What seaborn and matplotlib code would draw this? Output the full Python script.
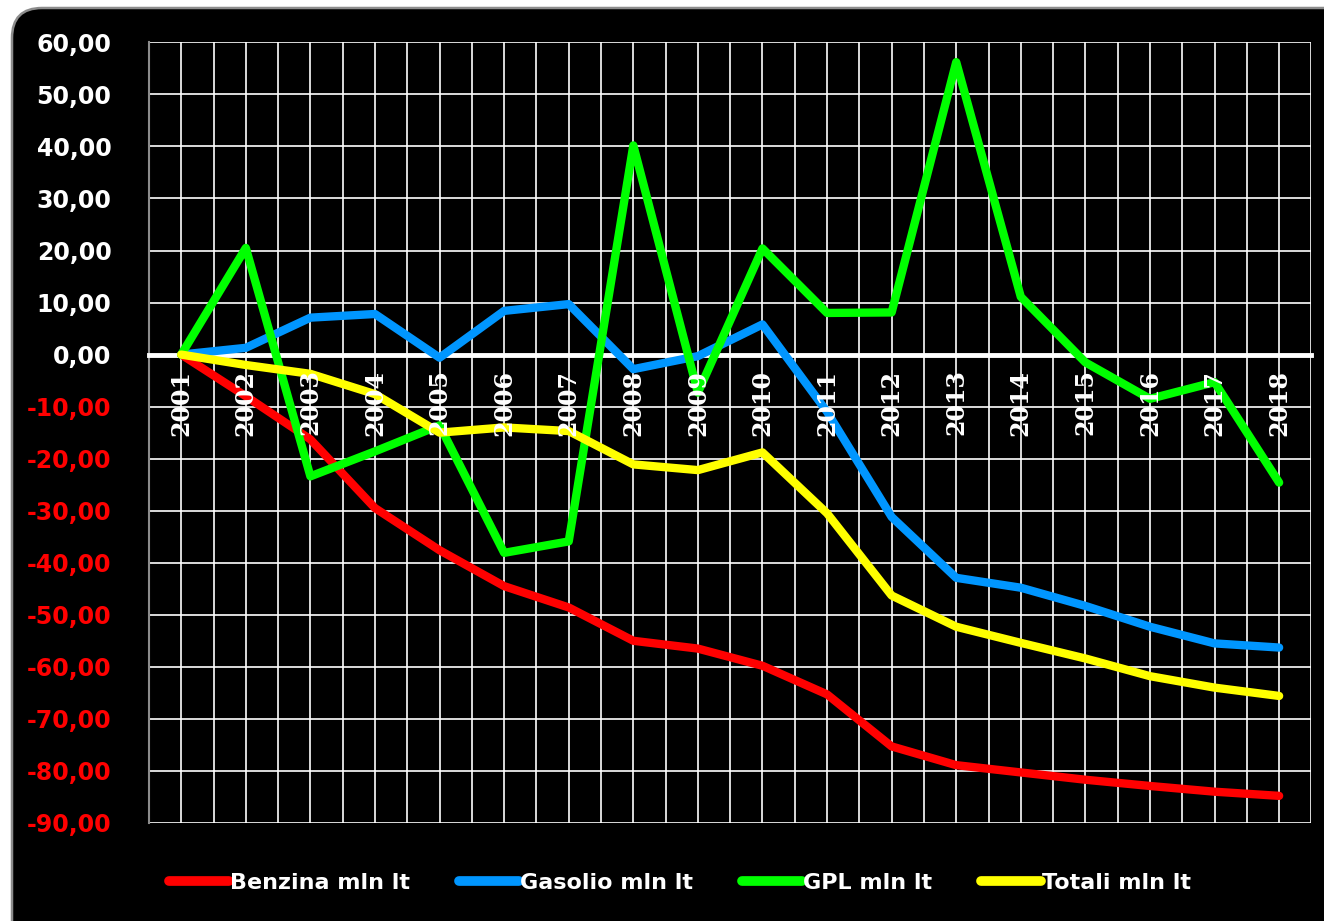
import numpy as np
import pandas as pd
import seaborn as sns
import matplotlib.pyplot as plt
from matplotlib.patches import FancyBboxPatch

# Data (variazione rispetto al 2001, mln lt)
years = list(range(2001, 2019))
benzina = [0, -8.0, -16.3, -29.5, -37.6, -44.5, -48.6, -55.0, -56.5, -59.8,
           -65.3, -75.3, -78.9, -80.3, -81.7, -82.9, -84.0, -84.8]
gasolio = [0, 1.3, 7.1, 7.8, -0.6, 8.4, 9.7, -2.8, -0.3, 5.8,
           -11.0, -31.2, -42.9, -44.8, -48.3, -52.3, -55.5, -56.3]
gpl = [0, 20.5, -23.4, -18.6, -13.6, -38.1, -35.9, 40.2, -7.3, 20.4,
       8.0, 8.1, 56.2, 11.1, -1.5, -8.5, -5.3, -24.6]
totali = [0, -2.0, -3.7, -7.6, -15.0, -14.0, -14.7, -21.1, -22.2, -18.8,
          -30.5, -46.3, -52.3, -55.4, -58.4, -61.8, -64.0, -65.6]

series_names = ['Benzina mln lt', 'Gasolio mln lt', 'GPL mln lt', 'Totali mln lt']
series_colors = ['#ff0000', '#0096ff', '#00ff00', '#ffff00']
y_ticks = list(range(-90, 61, 10))

df = pd.DataFrame({'anno': years, series_names[0]: benzina, series_names[1]: gasolio,
                   series_names[2]: gpl, series_names[3]: totali})
df_long = df.melt(id_vars='anno', var_name='serie', value_name='valore')

sns.set_style('white')
fig = plt.figure(figsize=(13.24, 9.21), dpi=100, facecolor='white')

# black rounded frame behind everything (runs off the right and bottom edges)
frame = FancyBboxPatch((0.12, -0.4), 13.6, 9.53,
                       boxstyle='round,pad=0,rounding_size=0.3',
                       transform=fig.dpi_scale_trans, facecolor='black',
                       edgecolor='#8c8c8c', linewidth=1.8, zorder=-10)
fig.patches.append(frame)

ax = fig.add_axes([0.1125, 0.1065, 0.878, 0.8475])
ax.set_facecolor('black')

sns.lineplot(data=df_long, x='anno', y='valore', hue='serie',
             hue_order=series_names, palette=series_colors, linewidth=6,
             solid_capstyle='round', solid_joinstyle='round', ax=ax, zorder=5)
handles = ax.get_lines()[:4]
ax.get_legend().remove()

ax.set_xlim(2000.5, 2018.5)
ax.set_ylim(-90, 60)
ax.set_xlabel('')
ax.set_ylabel('')

# x axis: ticks on category boundaries, gridlines also on categories
ax.set_xticks(np.arange(2000.5, 2019, 1.0))
ax.set_xticklabels([])
ax.set_xticks(years, minor=True)
ax.tick_params(axis='x', which='major', direction='out', length=5, width=3.5,
               color='white')
ax.tick_params(axis='x', which='minor', length=0, labelbottom=False)

# year labels sit just under the zero line, drawn on top of the series
for yr in years:
    ax.annotate(str(yr), xy=(yr, 0), xytext=(0, -15), textcoords='offset pixels',
                rotation=90, ha='center', va='top', color='white', fontsize=17,
                fontweight='bold', family='DejaVu Serif', zorder=10)

# y axis
ax.set_yticks(y_ticks, [f'{v:.2f}'.replace('.', ',') for v in y_ticks])
ax.tick_params(axis='y', direction='out', length=7, width=1.5, color='#8c8c8c',
               pad=20, labelsize=17)

ax.grid(True, which='both', axis='x', color='white', linewidth=1.2)
ax.grid(True, which='major', axis='y', color='white', linewidth=1.2)
ax.set_axisbelow(True)

for side in ['top', 'right']:
    ax.spines[side].set_visible(False)
ax.spines['left'].set_color('#8c8c8c')
ax.spines['left'].set_linewidth(1.5)
ax.spines['bottom'].set_position(('data', 0))
ax.spines['bottom'].set_color('white')
ax.spines['bottom'].set_linewidth(3.5)
ax.spines['bottom'].set_zorder(4)

leg = fig.legend(handles, series_names, loc='center', ncol=4,
                 bbox_to_anchor=(0.5136, 0.0413), frameon=False,
                 handlelength=2.7, handletextpad=0.05, columnspacing=2.2,
                 prop={'size': 16, 'weight': 'bold'})
for t in leg.get_texts():
    t.set_color('white')
for h in leg.get_lines():
    h.set_linewidth(7)

# colour the y tick labels once the ticks exist (red for negatives)
fig.canvas.draw()
for lab, v in zip(ax.get_yticklabels(), y_ticks):
    lab.set_color('#ff0000' if v < 0 else 'white')
    lab.set_fontweight('bold')

fig.savefig('out.png', dpi=100, facecolor='white')
